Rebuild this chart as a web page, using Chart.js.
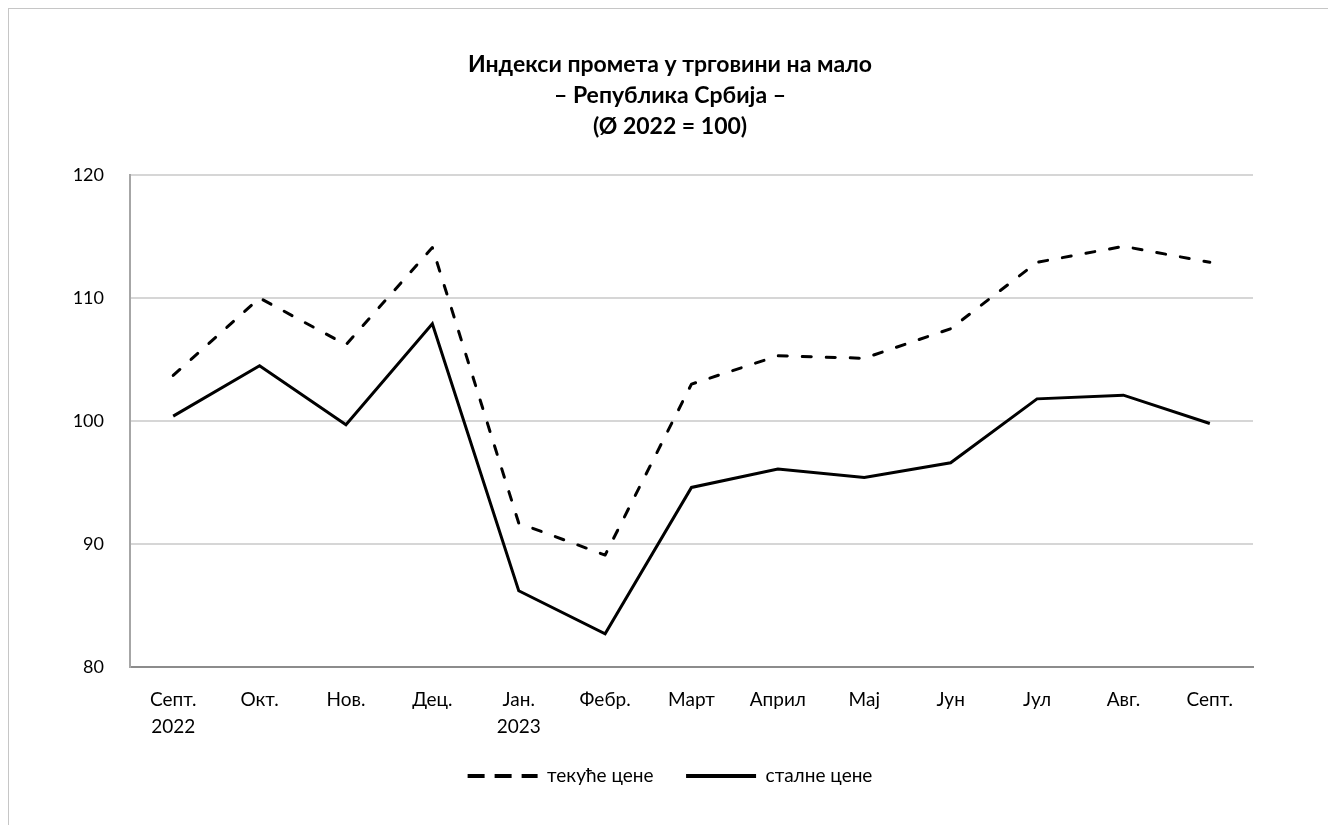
<!DOCTYPE html>
<html>
<head>
<meta charset="utf-8">
<script src="https://cdn.jsdelivr.net/npm/chart.js@4.4.0/dist/chart.umd.min.js"></script>
<style>
    html, body { margin: 0; padding: 0; background: #fff; }
    #wrap { position: relative; width: 1328px; height: 825px; overflow: hidden; }
    #frame { position: absolute; left: 8px; top: 8px; width: 1340px; height: 840px; border: 1px solid #c6c6c6; }
    #myChart { position: absolute; left: 0; top: 0; }
</style>
</head>
<body>
<div id="wrap">
    <div id="frame"></div>
    <canvas id="myChart" width="1328" height="825"></canvas>
</div>
<script>
const months = [
    ['Септ.', '2022'], 'Окт.', 'Нов.', 'Дец.', ['Јан.', '2023'], 'Фебр.',
    'Март', 'Април', 'Мај', 'Јун', 'Јул', 'Авг.', 'Септ.'
];
const currentPrices = [103.7, 110.0, 106.2, 114.1, 91.7, 89.1, 103.0, 105.3, 105.1, 107.5, 112.9, 114.2, 112.9];
const constantPrices = [100.4, 104.5, 99.7, 107.9, 86.2, 82.7, 94.6, 96.1, 95.4, 96.6, 101.8, 102.1, 99.8];
const titleLines = ['Индекси промета у трговини на мало', '– Република Србија –', '(Ø 2022 = 100)'];

// title and legend are centred on the whole frame, not on the plot
const shiftBoxes = {
    id: 'shiftBoxes',
    afterLayout: function(chart) {
        if (chart.titleBlock) chart.titleBlock.left += 87;
        if (chart.legend) chart.legend.left += 87;
    }
};

document.addEventListener("DOMContentLoaded", function() {
    Chart.defaults.font.family = 'Lato, "Liberation Sans", sans-serif';
    Chart.defaults.color = '#000';

    const ctx = document.getElementById('myChart').getContext('2d');
    new Chart(ctx, {
        type: 'line',
        data: {
            labels: months,
            datasets: [
                {
                    label: 'текуће цене',
                    data: currentPrices,
                    borderColor: '#000',
                    backgroundColor: '#000',
                    borderWidth: 3,
                    borderDash: [9, 15],
                    borderCapStyle: 'round',
                    borderJoinStyle: 'round',
                    pointRadius: 0,
                    fill: false
                },
                {
                    label: 'сталне цене',
                    data: constantPrices,
                    borderColor: '#000',
                    backgroundColor: '#000',
                    borderWidth: 3,
                    borderJoinStyle: 'miter',
                    pointRadius: 0,
                    fill: false
                }
            ]
        },
        options: {
            responsive: false,
            animation: false,
            layout: {
                padding: { top: 40, left: 0, right: 75, bottom: 29.5 }
            },
            plugins: {
                title: {
                    display: true,
                    text: titleLines,
                    font: { size: 23, weight: 'bold', lineHeight: 31 / 23 },
                    padding: { top: 9.5, bottom: 32.5 }
                },
                legend: {
                    position: 'bottom',
                    labels: {
                        usePointStyle: true,
                        pointStyle: 'line',
                        pointStyleWidth: 70,
                        padding: 32.5,
                        font: { size: 19 },
                        generateLabels: function(chart) {
                            const items = Chart.defaults.plugins.legend.labels.generateLabels(chart);
                            items.forEach(function(it, i) {
                                it.lineWidth = 4;
                                it.lineCap = 'butt';
                                it.lineDash = i === 0 ? [17, 10] : [];
                            });
                            return items;
                        }
                    }
                },
                tooltip: { enabled: false }
            },
            scales: {
                x: {
                    offset: true,
                    afterFit: function(scale) { scale.height = 67; },
                    grid: { display: false, drawTicks: false },
                    border: { color: '#8c8c8c', width: 2 },
                    ticks: {
                        font: { size: 19, lineHeight: 27 / 19 },
                        padding: 19.5,
                        maxRotation: 0,
                        autoSkip: false
                    }
                },
                y: {
                    min: 80,
                    max: 120,
                    afterFit: function(scale) { scale.width = 130; },
                    grid: { color: '#d6d6d6', lineWidth: 2, drawTicks: false },
                    border: { color: '#a6a6a6', width: 2 },
                    ticks: {
                        stepSize: 10,
                        font: { size: 18 },
                        padding: 26
                    }
                }
            }
        },
        plugins: [shiftBoxes]
    });
});
</script>
</body>
</html>
